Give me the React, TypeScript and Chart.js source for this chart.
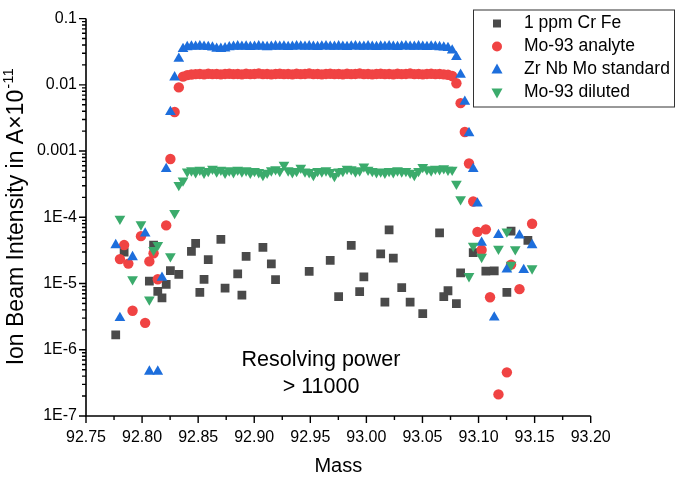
import React, { useEffect, useRef } from "react";
import { Chart, registerables } from "chart.js";

Chart.register(...registerables);

const FONT = '"Liberation Sans", Arial, Helvetica, sans-serif';

// Mass grid (u) shared by all series
const mass = [
  92.7765, 92.78025, 92.784, 92.78775, 92.7915, 92.79525, 92.799, 92.80275, 92.8065, 92.81025,
  92.814, 92.81775, 92.8215, 92.82525, 92.829, 92.83275, 92.8365, 92.84025, 92.844, 92.84775,
  92.8515, 92.85525, 92.859, 92.86275, 92.8665, 92.87025, 92.874, 92.87775, 92.8815, 92.88525,
  92.889, 92.89275, 92.8965, 92.90025, 92.904, 92.90775, 92.9115, 92.91525, 92.919, 92.92275,
  92.9265, 92.93025, 92.934, 92.93775, 92.9415, 92.94525, 92.949, 92.95275, 92.9565, 92.96025,
  92.964, 92.96775, 92.9715, 92.97525, 92.979, 92.98275, 92.9865, 92.99025, 92.994, 92.99775,
  93.0015, 93.00525, 93.009, 93.01275, 93.0165, 93.02025, 93.024, 93.02775, 93.0315, 93.03525,
  93.039, 93.04275, 93.0465, 93.05025, 93.054, 93.05775, 93.0615, 93.06525, 93.069, 93.07275,
  93.0765, 93.08025, 93.084, 93.08775, 93.0915, 93.09525, 93.099, 93.10275, 93.1065, 93.11025,
  93.114, 93.11775, 93.1215, 93.12525, 93.129, 93.13275, 93.1365, 93.14025, 93.144, 93.14775,
];

const crFe = [
  1.68e-6, null, 2.97e-5, null, null, null, null, null, 1.09e-5, 3.81e-5,
  7.6e-6, 6.05e-6, 9.75e-6, 1.57e-5, null, 1.37e-5, null, null, 3.05e-5, 4.04e-5,
  7.35e-6, 1.16e-5, 2.3e-5, null, null, 4.63e-5, 8.5e-6, null, null, 1.4e-5,
  6.7e-6, 2.57e-5, null, null, null, 3.52e-5, null, 1.98e-5, 1.15e-5, null,
  null, null, null, null, null, null, 1.52e-5, null, null, null,
  null, 2.24e-5, null, 6.34e-6, null, null, 3.78e-5, null, 7.53e-6, 1.26e-5,
  null, null, null, 2.8e-5, 5.22e-6, 6.45e-5, 2.42e-5, null, 8.7e-6, null,
  5.22e-6, null, null, 3.51e-6, null, null, null, 5.82e-5, 6.34e-6, 7.78e-6,
  null, 4.97e-6, 1.45e-5, null, null, 2.92e-5, null, null, 1.54e-5, null,
  1.55e-5, null, null, 7.35e-6, 6.19e-5, null, null, null, 4.48e-5, null,
];

const mo93Analyte = [
  null, 2.34e-5, 3.81e-5, 2.0e-5, 3.88e-6, null, 5.19e-5, 2.55e-6, 2.16e-5, 2.87e-5,
  1.16e-5, null, 7.54e-5, 7.59e-4, 3.89e-3, 9.14e-3, 0.0133, 0.0140, 0.0143, 0.0145,
  0.0146, 0.0144, 0.0147, 0.0145, 0.0146, 0.0144, 0.0146, 0.0147, 0.0145, 0.0146,
  0.0144, 0.0147, 0.0145, 0.0146, 0.0148, 0.0145, 0.0146, 0.0144, 0.0146, 0.0147,
  0.0145, 0.0146, 0.0144, 0.0147, 0.0145, 0.0146, 0.0148, 0.0145, 0.0146, 0.0144,
  0.0146, 0.0147, 0.0145, 0.0146, 0.0144, 0.0147, 0.0145, 0.0146, 0.0148, 0.0145,
  0.0146, 0.0144, 0.0146, 0.0147, 0.0145, 0.0146, 0.0144, 0.0147, 0.0145, 0.0146,
  0.0148, 0.0145, 0.0146, 0.0144, 0.0146, 0.0147, 0.0145, 0.0146, 0.0144, 0.0142,
  0.0136, 0.01057, 5.29e-3, 1.94e-3, 6.5e-4, 1.73e-4, 6.02e-5, 3.21e-5, 6.58e-5, 6.2e-6,
  null, 2.12e-7, null, 4.56e-7, 1.93e-5, null, 8.22e-6, null, null, 8.0e-5,
];

const zrNbMoStandard = [
  3.81e-5, 3.03e-6, null, null, 2.51e-5, null, null, 5.69e-5, 4.69e-7, null,
  4.69e-7, 1.23e-5, 5.39e-4, 3.89e-3, 0.013, 0.0248, 0.0349, 0.0372, 0.038, 0.0376,
  0.0384, 0.0378, 0.0374, 0.0366, 0.0352, 0.035, 0.0356, 0.037, 0.0378, 0.0382,
  0.0376, 0.038, 0.0374, 0.0378, 0.0384, 0.0376, 0.0372, 0.0378, 0.0382, 0.0376,
  0.038, 0.0374, 0.0378, 0.0384, 0.038, 0.0376, 0.0382, 0.0378, 0.0374, 0.038,
  0.0384, 0.0378, 0.0376, 0.0382, 0.0378, 0.0374, 0.038, 0.0384, 0.0378, 0.0376,
  0.0382, 0.0378, 0.0374, 0.038, 0.0376, 0.0382, 0.0378, 0.0374, 0.038, 0.0384,
  0.0378, 0.0376, 0.0382, 0.0378, 0.0374, 0.038, 0.0376, 0.0372, 0.0368, 0.0362,
  0.033, 0.0263, 0.0142, 5.57e-3, 1.87e-3, 5.39e-4, 1.62e-4, 4.14e-5, null, null,
  3.08e-6, 5.4e-5, null, 1.63e-5, null, null, 5.33e-5, 1.61e-5, null, 3.81e-5,
];

const mo93Diluted = [
  null, 9.48e-5, null, null, 1.16e-5, null, 7.8e-5, null, 5.73e-6, 3.21e-5,
  3.81e-5, null, null, 2.57e-5, 1.16e-4, 3.07e-4, 3.58e-4, 4.9e-4, 5.1e-4, 4.8e-4,
  5.2e-4, 4.7e-4, 5.0e-4, 5.4e-4, 4.9e-4, 5.2e-4, 4.7e-4, 5.1e-4, 4.8e-4, 5.2e-4,
  4.9e-4, 5.1e-4, 4.7e-4, 5.0e-4, 4.8e-4, 4.35e-4, 4.7e-4, 5.1e-4, 5.3e-4, 5.0e-4,
  6.2e-4, 5.1e-4, 4.8e-4, 5.0e-4, 5.6e-4, 4.9e-4, 4.8e-4, 4.35e-4, 5.0e-4, 4.9e-4,
  5.1e-4, 4.8e-4, 4.2e-4, 4.9e-4, 5.0e-4, 5.4e-4, 5.3e-4, 4.9e-4, 5.1e-4, 5.85e-4,
  5.2e-4, 5.0e-4, 4.8e-4, 4.9e-4, 4.7e-4, 5.0e-4, 4.8e-4, 5.1e-4, 4.9e-4, 5.0e-4,
  4.7e-4, 4.35e-4, 5.0e-4, 5.75e-4, 5.3e-4, 5.1e-4, 5.4e-4, 5.3e-4, 5.5e-4, 5.2e-4,
  5.2e-4, 3.2e-4, 1.87e-4, null, 1.29e-5, 3.71e-5, null, 2.52e-5, null, null,
  null, 3.35e-5, null, 6.08e-5, 1.91e-5, 3.29e-5, null, null, null, 1.69e-5,
];

const seriesNames = ["1 ppm Cr Fe", "Mo-93 analyte", "Zr Nb Mo standard", "Mo-93 diluted"];
const seriesColors = ["#4a4a4a", "#f04343", "#1d6edc", "#3bab6c"];

const yTickValues = [1e-7, 1e-6, 1e-5, 1e-4, 1e-3, 1e-2, 1e-1];
const yTickLabels = ["1E-7", "1E-6", "1E-5", "1E-4", "0.001", "0.01", "0.1"];
const xTickValues = [92.75, 92.8, 92.85, 92.9, 92.95, 93.0, 93.05, 93.1, 93.15, 93.2];
const xTickLabels = ["92.75", "92.80", "92.85", "92.90", "92.95", "93.00", "93.05", "93.10", "93.15", "93.20"];

const xTitle = "Mass";
const yTitle = "Ion Beam Intensity in A×10";
const yTitleSup = "-11";
const noteLines = ["Resolving power", "> 11000"];

function toPoints(values: (number | null)[]) {
  const pts: { x: number; y: number }[] = [];
  values.forEach((v, i) => {
    if (v != null) pts.push({ x: mass[i], y: v });
  });
  return pts;
}

const decorPlugin = {
  id: "decor",
  afterDraw(chart: any) {
    const { ctx, chartArea } = chart;
    const xs = chart.scales.x;
    const ys = chart.scales.y;
    const L = chartArea.left;
    const B = chartArea.bottom;
    const R = chartArea.right;
    const T = chartArea.top;
    ctx.save();
    ctx.strokeStyle = "#000";
    ctx.lineWidth = 1.6;
    ctx.beginPath();
    ctx.moveTo(L, T);
    ctx.lineTo(L, B);
    ctx.lineTo(R, B);
    ctx.stroke();

    // y ticks
    ctx.lineWidth = 1.4;
    ctx.beginPath();
    for (let e = -7; e <= -1; e++) {
      const yp = ys.getPixelForValue(Math.pow(10, e));
      ctx.moveTo(L, yp);
      ctx.lineTo(L - 7, yp);
      if (e < -1) {
        for (let k = 2; k <= 9; k++) {
          const ym = ys.getPixelForValue(k * Math.pow(10, e));
          ctx.moveTo(L, ym);
          ctx.lineTo(L - 4, ym);
        }
      }
    }
    // x ticks
    xTickValues.forEach((v, i) => {
      const xp = xs.getPixelForValue(v);
      ctx.moveTo(xp, B);
      ctx.lineTo(xp, B + 7);
      if (i < xTickValues.length - 1) {
        const xm = xs.getPixelForValue((v + xTickValues[i + 1]) / 2);
        ctx.moveTo(xm, B);
        ctx.lineTo(xm, B + 4);
      }
    });
    ctx.stroke();

    // axis titles
    ctx.fillStyle = "#000";
    ctx.font = `20px ${FONT}`;
    ctx.textAlign = "center";
    ctx.textBaseline = "middle";
    ctx.fillText(xTitle, (L + R) / 2, 466);

    ctx.save();
    ctx.translate(17, (T + B) / 2);
    ctx.rotate(-Math.PI / 2);
    ctx.font = `23px ${FONT}`;
    const w1 = ctx.measureText(yTitle).width;
    ctx.font = `15px ${FONT}`;
    const w2 = ctx.measureText(yTitleSup).width;
    const start = -(w1 + w2) / 2;
    ctx.textAlign = "left";
    ctx.font = `23px ${FONT}`;
    ctx.fillText(yTitle, start, 0);
    ctx.font = `15px ${FONT}`;
    ctx.fillText(yTitleSup, start + w1 + 1, -8);
    ctx.restore();

    // annotation
    ctx.font = `21.5px ${FONT}`;
    ctx.textAlign = "center";
    ctx.fillText(noteLines[0], 321, 360);
    ctx.fillText(noteLines[1], 321, 387);

    // legend
    const lx = 473, ly = 9.5, lw = 201, lh = 97;
    ctx.fillStyle = "#fff";
    ctx.fillRect(lx, ly, lw, lh);
    ctx.strokeStyle = "#333";
    ctx.lineWidth = 1;
    ctx.strokeRect(lx + 0.5, ly + 0.5, lw, lh);
    const rows = [23.5, 46.5, 69.5, 92.5];
    chart.data.datasets.forEach((ds: any, i: number) => {
      const cy = rows[i];
      const cx = 497;
      ctx.fillStyle = seriesColors[i];
      ctx.beginPath();
      if (i === 0) {
        ctx.rect(cx - 4, cy - 4, 8, 8);
      } else if (i === 1) {
        ctx.arc(cx, cy, 5, 0, Math.PI * 2);
      } else if (i === 2) {
        ctx.moveTo(cx, cy - 6);
        ctx.lineTo(cx + 5.5, cy + 4);
        ctx.lineTo(cx - 5.5, cy + 4);
        ctx.closePath();
      } else {
        ctx.moveTo(cx, cy + 6);
        ctx.lineTo(cx + 5.5, cy - 4);
        ctx.lineTo(cx - 5.5, cy - 4);
        ctx.closePath();
      }
      ctx.fill();
      ctx.fillStyle = "#000";
      ctx.font = `17.5px ${FONT}`;
      ctx.textAlign = "left";
      ctx.textBaseline = "middle";
      ctx.fillText(ds.label, 524, cy);
    });
    ctx.restore();
  },
};

export default function App() {
  const ref = useRef<HTMLCanvasElement | null>(null);
  useEffect(() => {
    document.body.style.margin = "0";
    const canvas = ref.current;
    if (!canvas) return;
    const chart = new Chart(canvas, {
      type: "scatter",
      data: {
        datasets: [
          {
            label: seriesNames[0],
            data: toPoints(crFe),
            pointStyle: "rect",
            pointRadius: 6.2,
            backgroundColor: seriesColors[0],
            borderColor: seriesColors[0],
            borderWidth: 0,
            order: 4,
          },
          {
            label: seriesNames[1],
            data: toPoints(mo93Analyte),
            pointStyle: "circle",
            pointRadius: 5.2,
            backgroundColor: seriesColors[1],
            borderColor: seriesColors[1],
            borderWidth: 0,
            order: 3,
          },
          {
            label: seriesNames[2],
            data: toPoints(zrNbMoStandard),
            pointStyle: "triangle",
            pointRadius: 6.2,
            backgroundColor: seriesColors[2],
            borderColor: seriesColors[2],
            borderWidth: 0,
            order: 2,
          },
          {
            label: seriesNames[3],
            data: toPoints(mo93Diluted),
            pointStyle: "triangle",
            rotation: 180,
            pointRadius: 6.2,
            backgroundColor: seriesColors[3],
            borderColor: seriesColors[3],
            borderWidth: 0,
            order: 1,
          },
        ] as any,
      },
      options: {
        animation: false,
        responsive: false,
        devicePixelRatio: 1,
        events: [],
        layout: { padding: { left: 0, top: 10.8, right: 94.3, bottom: 0 } },
        plugins: {
          legend: { display: false },
          tooltip: { enabled: false },
        },
        scales: {
          x: {
            type: "linear",
            min: 92.75,
            max: 93.2,
            afterBuildTicks: (s: any) => {
              s.ticks = xTickValues.map((v) => ({ value: v }));
            },
            afterFit: (s: any) => {
              s.height = 66;
            },
            grid: { display: false, drawTicks: false },
            border: { display: false },
            ticks: {
              autoSkip: false,
              maxRotation: 0,
              padding: 12,
              color: "#000",
              font: { family: FONT, size: 16 },
              callback: (v: any) => {
                const idx = xTickValues.findIndex((t) => Math.abs(t - Number(v)) < 1e-6);
                return idx >= 0 ? xTickLabels[idx] : "";
              },
            },
          },
          y: {
            type: "logarithmic",
            min: 1e-7,
            max: 0.1,
            afterBuildTicks: (s: any) => {
              s.ticks = yTickValues.map((v) => ({ value: v }));
            },
            afterFit: (s: any) => {
              s.width = 86;
            },
            grid: { display: false, drawTicks: false },
            border: { display: false },
            ticks: {
              autoSkip: false,
              padding: 9,
              color: "#000",
              font: { family: FONT, size: 16 },
              callback: (v: any) => {
                const idx = yTickValues.findIndex(
                  (t) => Math.abs(Math.log10(t) - Math.log10(Number(v))) < 1e-6
                );
                return idx >= 0 ? yTickLabels[idx] : "";
              },
            },
          },
        },
      } as any,
      plugins: [decorPlugin],
    });
    return () => chart.destroy();
  }, []);
  return (
    <div style={{ width: 685, height: 482, position: "relative", background: "#fff" }}>
      <canvas ref={ref} width={685} height={482} style={{ display: "block" }} />
    </div>
  );
}
